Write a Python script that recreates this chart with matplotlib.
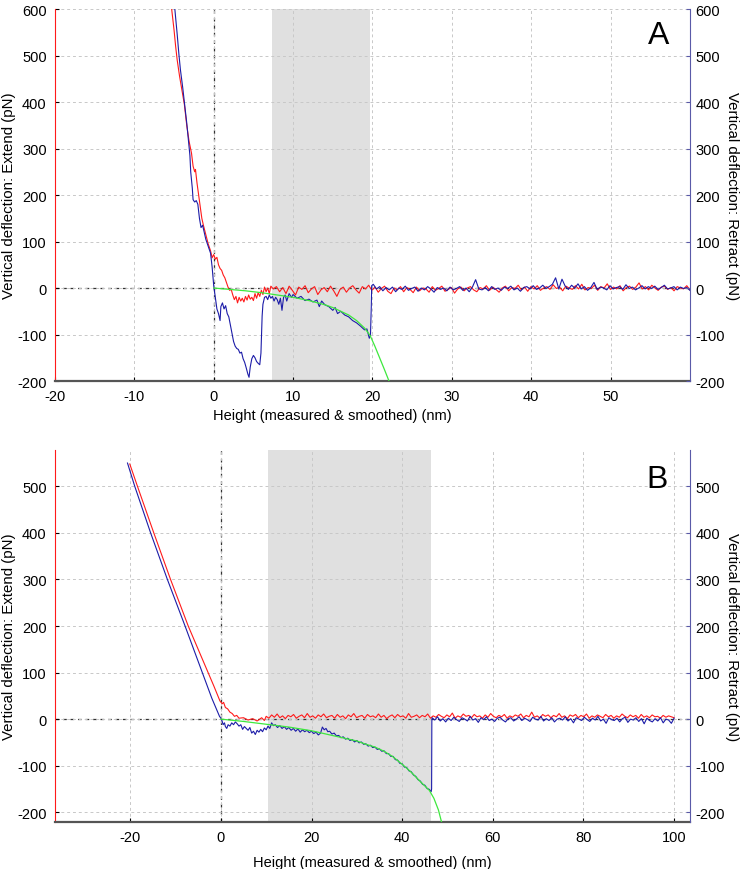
"""Force-distance curves (extend / retract) for two pulling events, panels A and B."""

import matplotlib
matplotlib.use("Agg")
import matplotlib.pyplot as plt
import numpy as np

plt.rcParams["font.family"] = ["Liberation Sans", "DejaVu Sans"]
plt.rcParams["axes.unicode_minus"] = False

RED = "#ff1a1a"
BLUE = "#1c1ca8"
GREEN = "#3ee83e"
SPINE_BLUE = "#5a5aa8"
SHADE = "#e0e0e0"

# ---------------- panel A ----------------
A_XLIM = (-20, 60)
A_YLIM = (-200, 600)
A_SHADE = (7.4, 19.7)

a_red_x = [-5.3, -5.0, -4.8, -4.6, -4.3, -4.0, -3.7, -3.4, -3.1, -2.8, -2.6, -2.4, -2.3,
           -2.1, -1.9, -1.7, -1.5, -1.3, -1.0, -0.7, -0.4, -0.2, 0.0, 0.2, 0.4, 0.6, 0.8,
           1.0, 1.2, 1.4, 1.6, 1.8, 2.0, 2.2, 2.4, 2.6, 2.8, 3.0, 3.2, 3.4, 3.6, 3.8, 4.0,
           4.2, 4.4, 4.6, 4.8, 5.0, 5.2, 5.4, 5.6, 5.8, 6.0, 6.2, 6.4, 6.6, 6.8, 7.0, 7.2]
a_red_y = [600, 555, 520, 490, 455, 425, 395, 350, 315, 290, 262, 250, 255,
           225, 200, 175, 150, 135, 115, 95, 80, 65, 72, 62, 66, 50, 42,
           38, 28, 22, 12, 2, -5, -3, -15, -25, -18, -32, -20, -28, -22, -30, -18,
           -26, -15, -24, -20, -27, -12, -22, -10, -18, -5, -14, 2, -8, 0, -12, 4]
# red baseline, 7.5 -> 60 nm
a_red_base = (7.5, 60.0)
a_red_noise = [-2, 3, -8, 1, -12, 4, -5, -15, 2, -3, 5, -10, -2, 3, -14, -4, 1, -8, 4, -6,
               -18, -3, 2, -9, 0, 5, -4, -11, 3, -2, 6, -5, 2, -9, -1, 4, -7, -12, 0, -4,
               3, -8, 1, -3, -10, 2, -6, 0, -2, -9, 3, -5, -1, 4, -7, -3, 1, -11, -2, 2,
               -6, 0, 3, -4, -8, 1, -2, 5, -5, 2, -3, -9, 0, 4, -6, 1, -1, 6, -4, 2,
               -7, 3, -2, 5, -5, 0, 3, -3, 7, -1, 2, -6, 4, 0, -3, 5, -2, 8, -4, 1,
               -1, 6, -5, 3, 0, 9, -3, 2, -2, 5, -6, 1, 4, -3, 2, 11, -2, 3, -4, 6,
               0, -5, 2, 4, -3, 1, -6, 3, 0, -2, 5, -4]

a_blue_x = [-4.9, -4.6, -4.4, -4.2, -3.9, -3.7, -3.4, -3.2, -3.0, -2.9, -2.7, -2.6, -2.4,
            -2.2, -2.0, -1.8, -1.6, -1.4, -1.2, -1.0, -0.7, -0.4, -0.2, 0.0, 0.2, 0.4,
            0.6, 0.8, 0.9, 1.1, 1.3, 1.5, 1.7, 1.9, 2.1, 2.3, 2.5, 2.7, 2.9, 3.1, 3.3,
            3.5, 3.7, 3.9, 4.1, 4.3, 4.45, 4.6, 4.8, 5.0, 5.2, 5.4, 5.6, 5.8, 5.95, 6.1,
            6.2, 6.4, 6.6, 6.8, 7.0, 7.2, 7.4, 7.6, 7.8, 8.0, 8.2, 8.4, 8.6, 8.8, 9.0,
            9.2, 9.5, 9.8, 10.0, 10.5, 11.0, 11.5, 12.0, 12.5, 13.0, 13.3, 13.6, 14.0,
            14.5, 15.0, 15.3, 15.6, 16.0, 16.5, 17.0, 17.5, 18.0, 18.5, 19.0, 19.3,
            19.6, 19.75, 19.85, 19.9]
a_blue_y = [600, 545, 505, 470, 430, 400, 355, 320, 285, 250, 215, 190, 185,
            188, 180, 150, 130, 135, 120, 105, 90, 75, 45, 5, -20, -45,
            -55, -70, -40, -32, -45, -38, -55, -62, -80, -98, -115, -125, -130, -132, -140,
            -138, -152, -160, -172, -185, -192, -170, -152, -145, -150, -158, -162, -165, -140, -60,
            -35, -20, -18, -25, -15, -22, -18, -28, -20, -25, -35, -22, -48, -20, -15,
            -28, -12, -20, -14, -22, -18, -27, -24, -30, -26, -40, -28, -36,
            -40, -48, -42, -55, -50, -58, -62, -70, -75, -82, -90, -88,
            -108, -102, -40, 5]
# blue baseline, 20.1 -> 60 nm
a_blue_base = (20.1, 60.0)
a_blue_noise = [8, -2, 3, -6, 1, -4, 2, -8, 0, -3, 4, -5, -1, 2, -7, 0, -4, 3, -2, -9,
                1, -3, 0, -6, 2, -4, -1, 3, -5, 0, -8, 2, 18, -2, -4, 1, -6, 3, -3, 0,
                -5, 2, -1, 4, -4, 0, -7, 1, 3, -2, 5, -3, 0, 6, -1, 3, 8, 22, -2, 19,
                4, -3, 6, 0, 9, -2, 3, -5, 1, 12, -3, 2, 0, -4, 5, -2, 1, 3, -3, 7,
                -1, 2, -4, 0, 5, -2, 3, -1, 4, -3, 1, 6, -2, 0, 3, -4, 2, -1, 1, -5]

a_fit_x = [0, 2, 4, 6, 8, 10, 12, 14, 15, 16, 17, 18, 19, 19.7, 20.3, 20.9, 21.5, 22.2]
a_fit_y = [0, -3, -6, -10, -15, -20, -27, -36, -42, -50, -58, -70, -86, -102, -125, -150, -175, -205]

# ---------------- panel B ----------------
B_XLIM = (-36.6, 103.5)
B_YLIM = (-221, 578)
B_SHADE = (10.4, 46.3)

b_red_x = [-20.1, -18.4, -14.8, -11.1, -7.2, -2.8, -1.5, -0.2, 0.3, 0.6, 1.0, 1.5, 2.0,
           2.5, 3.0, 3.5, 4.0, 5.0, 6.0, 7.0, 8.0, 9.0, 9.6]
b_red_y = [548, 500, 400, 300, 200, 100, 70, 39, 33, 36, 25, 22, 15,
           12, 6, 8, 2, 3, -2, 1, -4, 3, -3]
b_red_base = (10.0, 100.0)
b_red_noise = [6, 2, 9, 4, 11, 3, 7, 1, 8, 5, 10, 2, 6, 9, 3, 12, 4, 7, 2, 9,
               5, 11, 3, 6, 8, 2, 10, 4, 7, 1, 9, 5, 12, 3, 6, 8, 2, 10, 5, 7,
               3, 11, 4, 8, 1, 6, 9, 3, 10, 5, 7, 2, 12, 4, 6, 9, 3, 8, 5, 11,
               2, 7, 4, 10, 6, 3, 9, 5, 13, 2, 7, 4, 11, 6, 8, 3, 10, 5, 7, 2,
               9, 4, 12, 6, 3, 8, 5, 10, 2, 7, 4, 9, 6, 11, 3, 8, 5, 15, 4, 7,
               2, 10, 6, 9, 3, 8, 5, 12, 4, 7, 1, 9, 6, 10, 3, 8, 5, 11, 2, 7,
               4, 9, 6, 3, 10, 5, 8, 2, 7, 4, 11, 6, 3, 9, 5, 8, 2, 10, 4, 7,
               3, 9, 5, 6, 2, 8, 4, 7, 5, 3]

b_blue_x = [-20.6, -19.0, -15.5, -11.8, -7.9, -4.1, -2.0, -1.0, -0.3, 0.0,
            0.3, 0.5, 0.8, 1.0, 1.3, 1.6, 2.0, 2.4, 2.8, 3.2, 3.6, 4.0, 4.4, 4.8, 5.2,
            5.6, 6.0, 6.4, 6.8, 7.2, 7.6, 8.0, 8.4, 8.8, 9.2, 9.6, 10.0, 10.4, 10.8,
            11.2, 11.6, 12.0, 12.5, 13.0, 13.5, 14.0, 14.5, 15.0, 15.5, 16.0, 16.5,
            17.0, 17.5, 18.0, 18.5, 19.0, 19.5, 20.0, 20.5, 21.0, 21.5, 22.0, 22.4,
            22.8, 23.2, 23.6, 24.0, 24.5, 25.0, 25.5, 26.0, 26.5, 27.0, 27.5, 28.0,
            28.5, 29.0, 29.5, 30.0, 30.5, 31.0, 31.5, 32.0, 32.5, 33.0, 33.5, 34.0,
            34.5, 35.0, 35.5, 36.0, 36.5, 37.0, 37.5, 38.0, 38.5, 39.0, 39.5, 40.0,
            40.5, 41.0, 41.5, 42.0, 42.5, 43.0, 43.5, 44.0, 44.5, 45.0, 45.5, 46.0,
            46.4, 46.5, 46.55]
b_blue_y = [550, 500, 400, 300, 200, 100, 45, 22, 6, 2,
            -5, -12, -8, -16, -20, -12, -15, -8, -12, -6, -10, -15, -12, -22, -16,
            -20, -24, -18, -30, -26, -33, -24, -28, -22, -27, -19, -23, -15, -20,
            -8, -14, -12, -18, -14, -20, -16, -22, -18, -24, -20, -26,
            -21, -28, -23, -27, -24, -29, -26, -31, -28, -34, -30, -17,
            -23, -20, -27, -26, -32, -30, -36, -35, -40, -38, -43, -41,
            -46, -44, -49, -46, -51, -49, -54, -53, -58, -56, -61, -60,
            -65, -64, -69, -68, -74, -74, -80, -80, -87, -88, -95, -96,
            -103, -104, -111, -113, -120, -123, -130, -133, -140, -142, -149, -151,
            -156, -150, -5]
b_blue_base = (46.6, 100.0)
b_blue_noise = [3, -2, 5, -4, 1, -6, 2, -3, 4, -1, -5, 3, 0, -4, 6, -2, 1, -7, 3, -1,
                5, -3, 0, -5, 2, 4, -2, -6, 1, 3, -4, 0, 5, -3, 2, -1, -5, 4, 0, -2,
                6, -4, 1, -3, 3, -6, 0, 2, -2, 5, -4, 1, -8, 3, 0, -3, 4, -1, -5, 2,
                -2, 6, -4, 0, -9, 3, -1, -3, 2, -6, 1, 4, -7, 0, -2, 3, -5, 1, -10, 2,
                -3, -6, 1, -4, 3, -8, 0, -2, -9, 2]

b_fit_x = [0, 5, 10, 15, 20, 25, 30, 32, 34, 36, 38, 40, 42, 44, 46, 47, 48, 48.8]
b_fit_y = [0, -5, -11, -17, -25, -36, -47, -54, -60, -69, -81, -97, -114, -134, -153, -170, -195, -225]


def with_baseline(xs, ys, span, noise):
    bx = np.linspace(span[0], span[1], len(noise))
    return np.concatenate([xs, bx]), np.concatenate([ys, noise])


def style_axes(ax, xlim, ylim, xticks, yticks, shade, label, label_xy, xlab_xy):
    ax.set_xlim(*xlim)
    ax.set_ylim(*ylim)
    ax.axvspan(*shade, color=SHADE, lw=0, zorder=0)
    ax.set_xticks(xticks)
    ax.set_yticks(yticks)
    ax.grid(True, color="#c8c8c8", ls=(0, (3, 3)), lw=0.7, zorder=0.5)
    ax.axhline(0, color="#333333", ls=(0, (3, 3)), lw=0.9, zorder=1)
    ax.axvline(0, color="#333333", ls=(0, (3, 3)), lw=0.9, zorder=1)
    ax.spines["top"].set_visible(False)
    ax.spines["right"].set_visible(False)
    ax.spines["left"].set_color(RED)
    ax.spines["bottom"].set_color("#555555")
    ax.spines["bottom"].set_linewidth(1.6)
    ax.tick_params(direction="in", length=3, labelsize=10.5, pad=6)
    ax.set_xlabel("Height (measured & smoothed) (nm)", fontsize=10.5)
    ax.xaxis.set_label_coords(*xlab_xy)
    ax.set_ylabel("Vertical deflection: Extend (pN)", fontsize=10.8)
    ax.yaxis.set_label_coords(-0.062, 0.5)
    ax.text(label_xy[0], label_xy[1], label, fontsize=23, ha="center", va="center")

    rx = ax.twinx()
    rx.set_ylim(*ylim)
    rx.set_yticks(yticks)
    for s in ("top", "left", "bottom"):
        rx.spines[s].set_visible(False)
    rx.spines["right"].set_color(SPINE_BLUE)
    rx.tick_params(direction="in", length=3, labelsize=10.5, pad=4, color=SPINE_BLUE)
    rx.set_ylabel("Vertical deflection: Retract (pN)", fontsize=10.8, rotation=270,
                  va="center")
    rx.yaxis.set_label_coords(1.066, 0.5)


fig = plt.figure(figsize=(7.45, 8.7), dpi=100)
axA = fig.add_axes([0.0738, 0.5609, 0.8523, 0.4276])
axB = fig.add_axes([0.0738, 0.0540, 0.8523, 0.4276])

rx_, ry_ = with_baseline(a_red_x, a_red_y, a_red_base, a_red_noise)
bx_, by_ = with_baseline(a_blue_x, a_blue_y, a_blue_base, a_blue_noise)
axA.plot(rx_, ry_, color=RED, lw=0.8, zorder=3)
axA.plot(bx_, by_, color=BLUE, lw=0.8, zorder=4)
axA.plot(a_fit_x, a_fit_y, color=GREEN, lw=0.9, zorder=5)
style_axes(axA, A_XLIM, A_YLIM, range(-20, 60, 10), range(-200, 601, 100),
           A_SHADE, "A", (56, 544), (0.437, -0.072))

rx_, ry_ = with_baseline(b_red_x, b_red_y, b_red_base, b_red_noise)
bx_, by_ = with_baseline(b_blue_x, b_blue_y, b_blue_base, b_blue_noise)
axB.plot(rx_, ry_, color=RED, lw=0.8, zorder=3)
axB.plot(bx_, by_, color=BLUE, lw=0.8, zorder=4)
axB.plot(b_fit_x, b_fit_y, color=GREEN, lw=0.9, zorder=5)
style_axes(axB, B_XLIM, B_YLIM, range(-20, 101, 20), range(-200, 501, 100),
           B_SHADE, "B", (96.2, 516), (0.5, -0.088))

fig.savefig("out.png", dpi=100)
